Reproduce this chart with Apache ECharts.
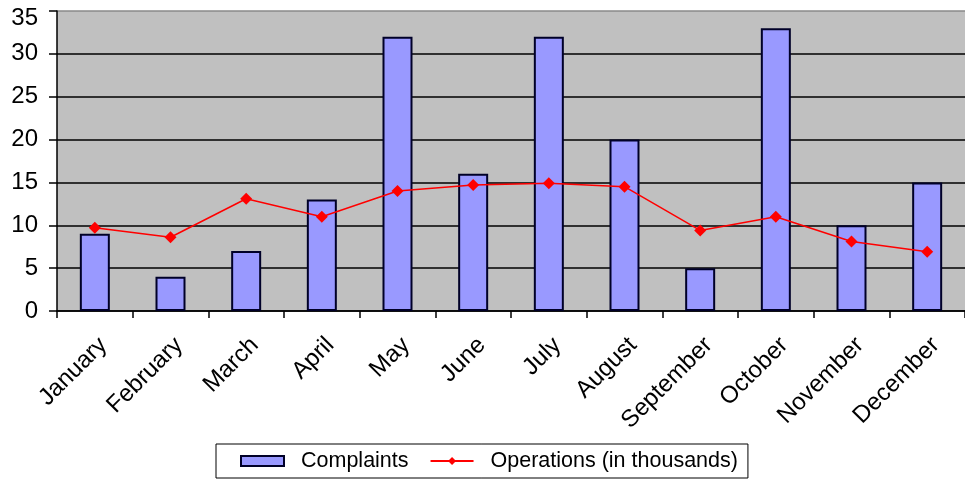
<!DOCTYPE html>
<html>
<head>
<meta charset="utf-8">
<script src="https://cdn.jsdelivr.net/npm/echarts@6/dist/echarts.min.js"></script>
<style>
html,body{margin:0;padding:0;background:#fff;}
#chart{width:965px;height:481px;}
</style>
</head>
<body>
<div id="chart"></div>
<script>
var categories = ['January','February','March','April','May','June','July','August','September','October','November','December'];
var complaints = [9, 4, 7, 13, 32, 16, 32, 20, 5, 33, 10, 15];
var operations = [9.7, 8.6, 13.1, 11.0, 14.0, 14.7, 14.9, 14.5, 9.4, 11.0, 8.1, 6.9];
var yTicks = {min: 0, max: 35, interval: 5};

var chart = echarts.init(document.getElementById('chart'), null, {renderer: 'canvas'});
var FONT = '"Liberation Sans", Arial, sans-serif';
chart.setOption({
  animation: false,
  textStyle: {fontFamily: FONT},
  grid: {
    left: 57, top: 11, right: -5, bottom: 170,
    show: true, backgroundColor: '#c0c0c0', borderWidth: 0,
    containLabel: false
  },
  legend: {
    left: 216, top: 444,
    orient: 'horizontal',
    padding: [6, 10, 6, 24],
    itemGap: 21,
    itemWidth: 43,
    itemHeight: 10,
    borderColor: '#000',
    borderWidth: 1,
    textStyle: {fontFamily: FONT, fontSize: 21.5, color: '#000', padding: [0, 0, 0, 12]},
    data: [{name: 'Complaints', icon: 'rect'}, {name: 'Operations (in thousands)'}]
  },
  xAxis: {
    type: 'category',
    data: categories,
    boundaryGap: true,
    axisLine: {lineStyle: {color: '#000', width: 1.5}},
    axisTick: {show: true, length: 7, inside: false, alignWithLabel: false, lineStyle: {color: '#000', width: 1.5}},
    axisLabel: {rotate: 45, fontSize: 24, color: '#000', margin: 22, verticalAlign: 'top', fontFamily: FONT, interval: 0},
    splitLine: {show: false}
  },
  yAxis: {
    type: 'value',
    min: yTicks.min, max: yTicks.max, interval: yTicks.interval,
    axisLine: {show: true, lineStyle: {color: '#000', width: 1.5}},
    axisTick: {show: true, length: 8, lineStyle: {color: '#000', width: 1.5}},
    axisLabel: {
      fontSize: 24, color: '#000', margin: 19, fontFamily: FONT,
      formatter: function (v) { return v === yTicks.max ? '{t|' + v + '}' : String(v); },
      rich: {t: {fontSize: 24, color: '#000', fontFamily: FONT, padding: [15, 0, 0, 0]}}
    },
    splitLine: {show: true, lineStyle: {color: ['#000','#000','#000','#000','#000','#000','#000','#8a8a8a'], width: 1.5}}
  },
  series: [
    {
      name: 'Complaints',
      type: 'bar',
      data: complaints,
      barWidth: 30,
      itemStyle: {color: '#9999ff', borderColor: '#000028', borderWidth: 2}
    },
    {
      name: 'Operations (in thousands)',
      type: 'line',
      data: operations,
      symbol: 'diamond',
      symbolSize: 12,
      lineStyle: {color: '#ff0000', width: 1.5},
      itemStyle: {color: '#ff0000'}
    }
  ]
});
</script>
</body>
</html>
